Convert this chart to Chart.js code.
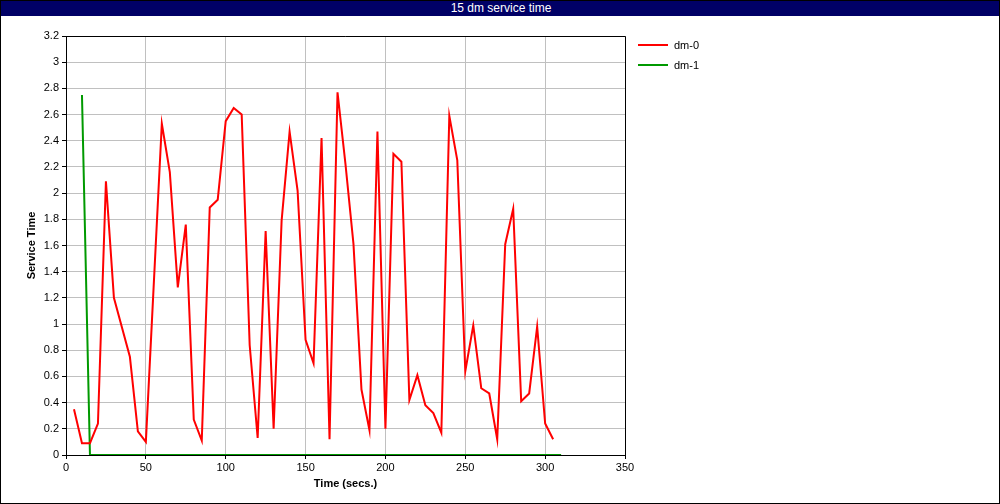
<!DOCTYPE html>
<html>
<head>
<meta charset="utf-8">
<script src="https://cdn.jsdelivr.net/npm/chart.js@4/dist/chart.umd.min.js"></script>
<style>
    html, body { margin: 0; padding: 0; background: #fff; }
    #wrap { position: relative; width: 1000px; height: 504px; box-sizing: border-box; border: 1px solid #000; overflow: hidden; }
    #titlebar { position: absolute; left: 0; top: 0; width: 1000px; height: 15px; background: #000066; color: #fff;
        font: 12px "Liberation Sans", Arial, sans-serif; text-align: center; line-height: 15px; }
    #chart { position: absolute; left: -1px; top: -1px; }
    #legend { position: absolute; left: 637px; top: 34px; font: 11px "Liberation Sans", Arial, sans-serif; }
    .item { height: 20px; display: flex; align-items: center; }
    .swatch { width: 30px; height: 2px; margin-right: 6px; }
</style>
</head>
<body>
<div id="wrap">
    <canvas id="chart" width="1000" height="504"></canvas>
    <div id="titlebar">15 dm service time</div>
    <div id="legend"></div>
</div>
<script>
// dm-0 samples (secs, service time)
var dm0Time = [5, 10, 15, 20, 25, 30, 40, 45, 50, 60, 65, 70, 75, 80, 85, 90, 95, 100, 105, 110,
    115, 120, 125, 130, 135, 140, 145, 150, 155, 160, 165, 170, 175, 180, 185, 190, 195, 200, 205, 210,
    215, 220, 225, 230, 235, 240, 245, 250, 255, 260, 265, 270, 275, 280, 285, 290, 295, 300, 305];
var dm0Values = [0.35, 0.09, 0.09, 0.24, 2.09, 1.2, 0.75, 0.18, 0.1, 2.53, 2.16, 1.28, 1.76, 0.27, 0.11, 1.89, 1.95, 2.55, 2.65, 2.6,
    0.84, 0.13, 1.71, 0.2, 1.79, 2.47, 2.02, 0.88, 0.7, 2.42, 0.12, 2.77, 2.22, 1.61, 0.5, 0.19, 2.47, 0.2, 2.3, 2.24,
    0.42, 0.61, 0.38, 0.32, 0.17, 2.59, 2.25, 0.64, 0.99, 0.51, 0.47, 0.12, 1.61, 1.88, 0.41, 0.47, 0.98, 0.24, 0.12];
// dm-1 samples
var dm1Time = [10, 15, 310];
var dm1Values = [2.75, 0, 0];

var seriesNames = ["dm-0", "dm-1"];
var seriesColors = ["#ff0000", "#009900"];

function toPoints(xs, ys) {
    var pts = [];
    for (let i = 0; i < xs.length; i++) {
        pts.push({ x: xs[i], y: ys[i] });
    }
    return pts;
}

var frame = {
    id: 'frame',
    afterDraw: function (chart) {
        var a = chart.chartArea, ctx = chart.ctx;
        ctx.save();
        ctx.strokeStyle = '#000';
        ctx.lineWidth = 1;
        ctx.beginPath();
        ctx.moveTo(a.left, a.top + 0.5);
        ctx.lineTo(a.right + 0.5, a.top + 0.5);
        ctx.lineTo(a.right + 0.5, a.bottom);
        ctx.stroke();
        ctx.restore();
    }
};

var font = { family: '"Liberation Sans", Arial, sans-serif', size: 11 };

var ctx = document.getElementById('chart').getContext('2d');
var myChart = new Chart(ctx, {
    type: 'line',
    data: {
        datasets: [{
            label: seriesNames[0],
            data: toPoints(dm0Time, dm0Values),
            borderColor: seriesColors[0],
            backgroundColor: seriesColors[0],
            borderWidth: 2,
            pointRadius: 0,
            tension: 0
        }, {
            label: seriesNames[1],
            data: toPoints(dm1Time, dm1Values),
            borderColor: seriesColors[1],
            backgroundColor: seriesColors[1],
            borderWidth: 2,
            pointRadius: 0,
            tension: 0
        }]
    },
    options: {
        responsive: false,
        animation: false,
        events: [],
        layout: { padding: { left: 21, top: 36, right: 375, bottom: 9 } },
        plugins: {
            legend: { display: false },
            tooltip: { enabled: false },
            title: { display: false }
        },
        scales: {
            x: {
                type: 'linear',
                min: 0,
                max: 350,
                ticks: { stepSize: 50, color: '#000', font: font, padding: 2, maxRotation: 0 },
                grid: { color: '#c0c0c0', tickColor: '#000', tickLength: 4 },
                border: { color: '#000', width: 1 },
                title: { display: true, text: 'Time (secs.)', color: '#000', font: { family: font.family, size: 11, weight: 'bold' }, padding: 4 },
                afterFit: function (scale) { scale.height = 40; }
            },
            y: {
                min: 0,
                max: 3.2,
                ticks: {
                    stepSize: 0.2, color: '#000', font: font, padding: 3,
                    callback: function (value) { return String(Math.round(value * 10) / 10); }
                },
                grid: { color: '#c0c0c0', tickColor: '#000', tickLength: 4 },
                border: { color: '#000', width: 1 },
                title: { display: true, text: 'Service Time', color: '#000', font: { family: font.family, size: 11, weight: 'bold' }, padding: 4 },
                afterFit: function (scale) { scale.width = 45; }
            }
        }
    },
    plugins: [frame]
});

var legend = document.getElementById('legend');
for (let i = 0; i < seriesNames.length; i++) {
    legend.innerHTML += '<div class="item"><span class="swatch" style="background:' + seriesColors[i] + '"></span>' + seriesNames[i] + '</div>';
}
</script>
</body>
</html>
